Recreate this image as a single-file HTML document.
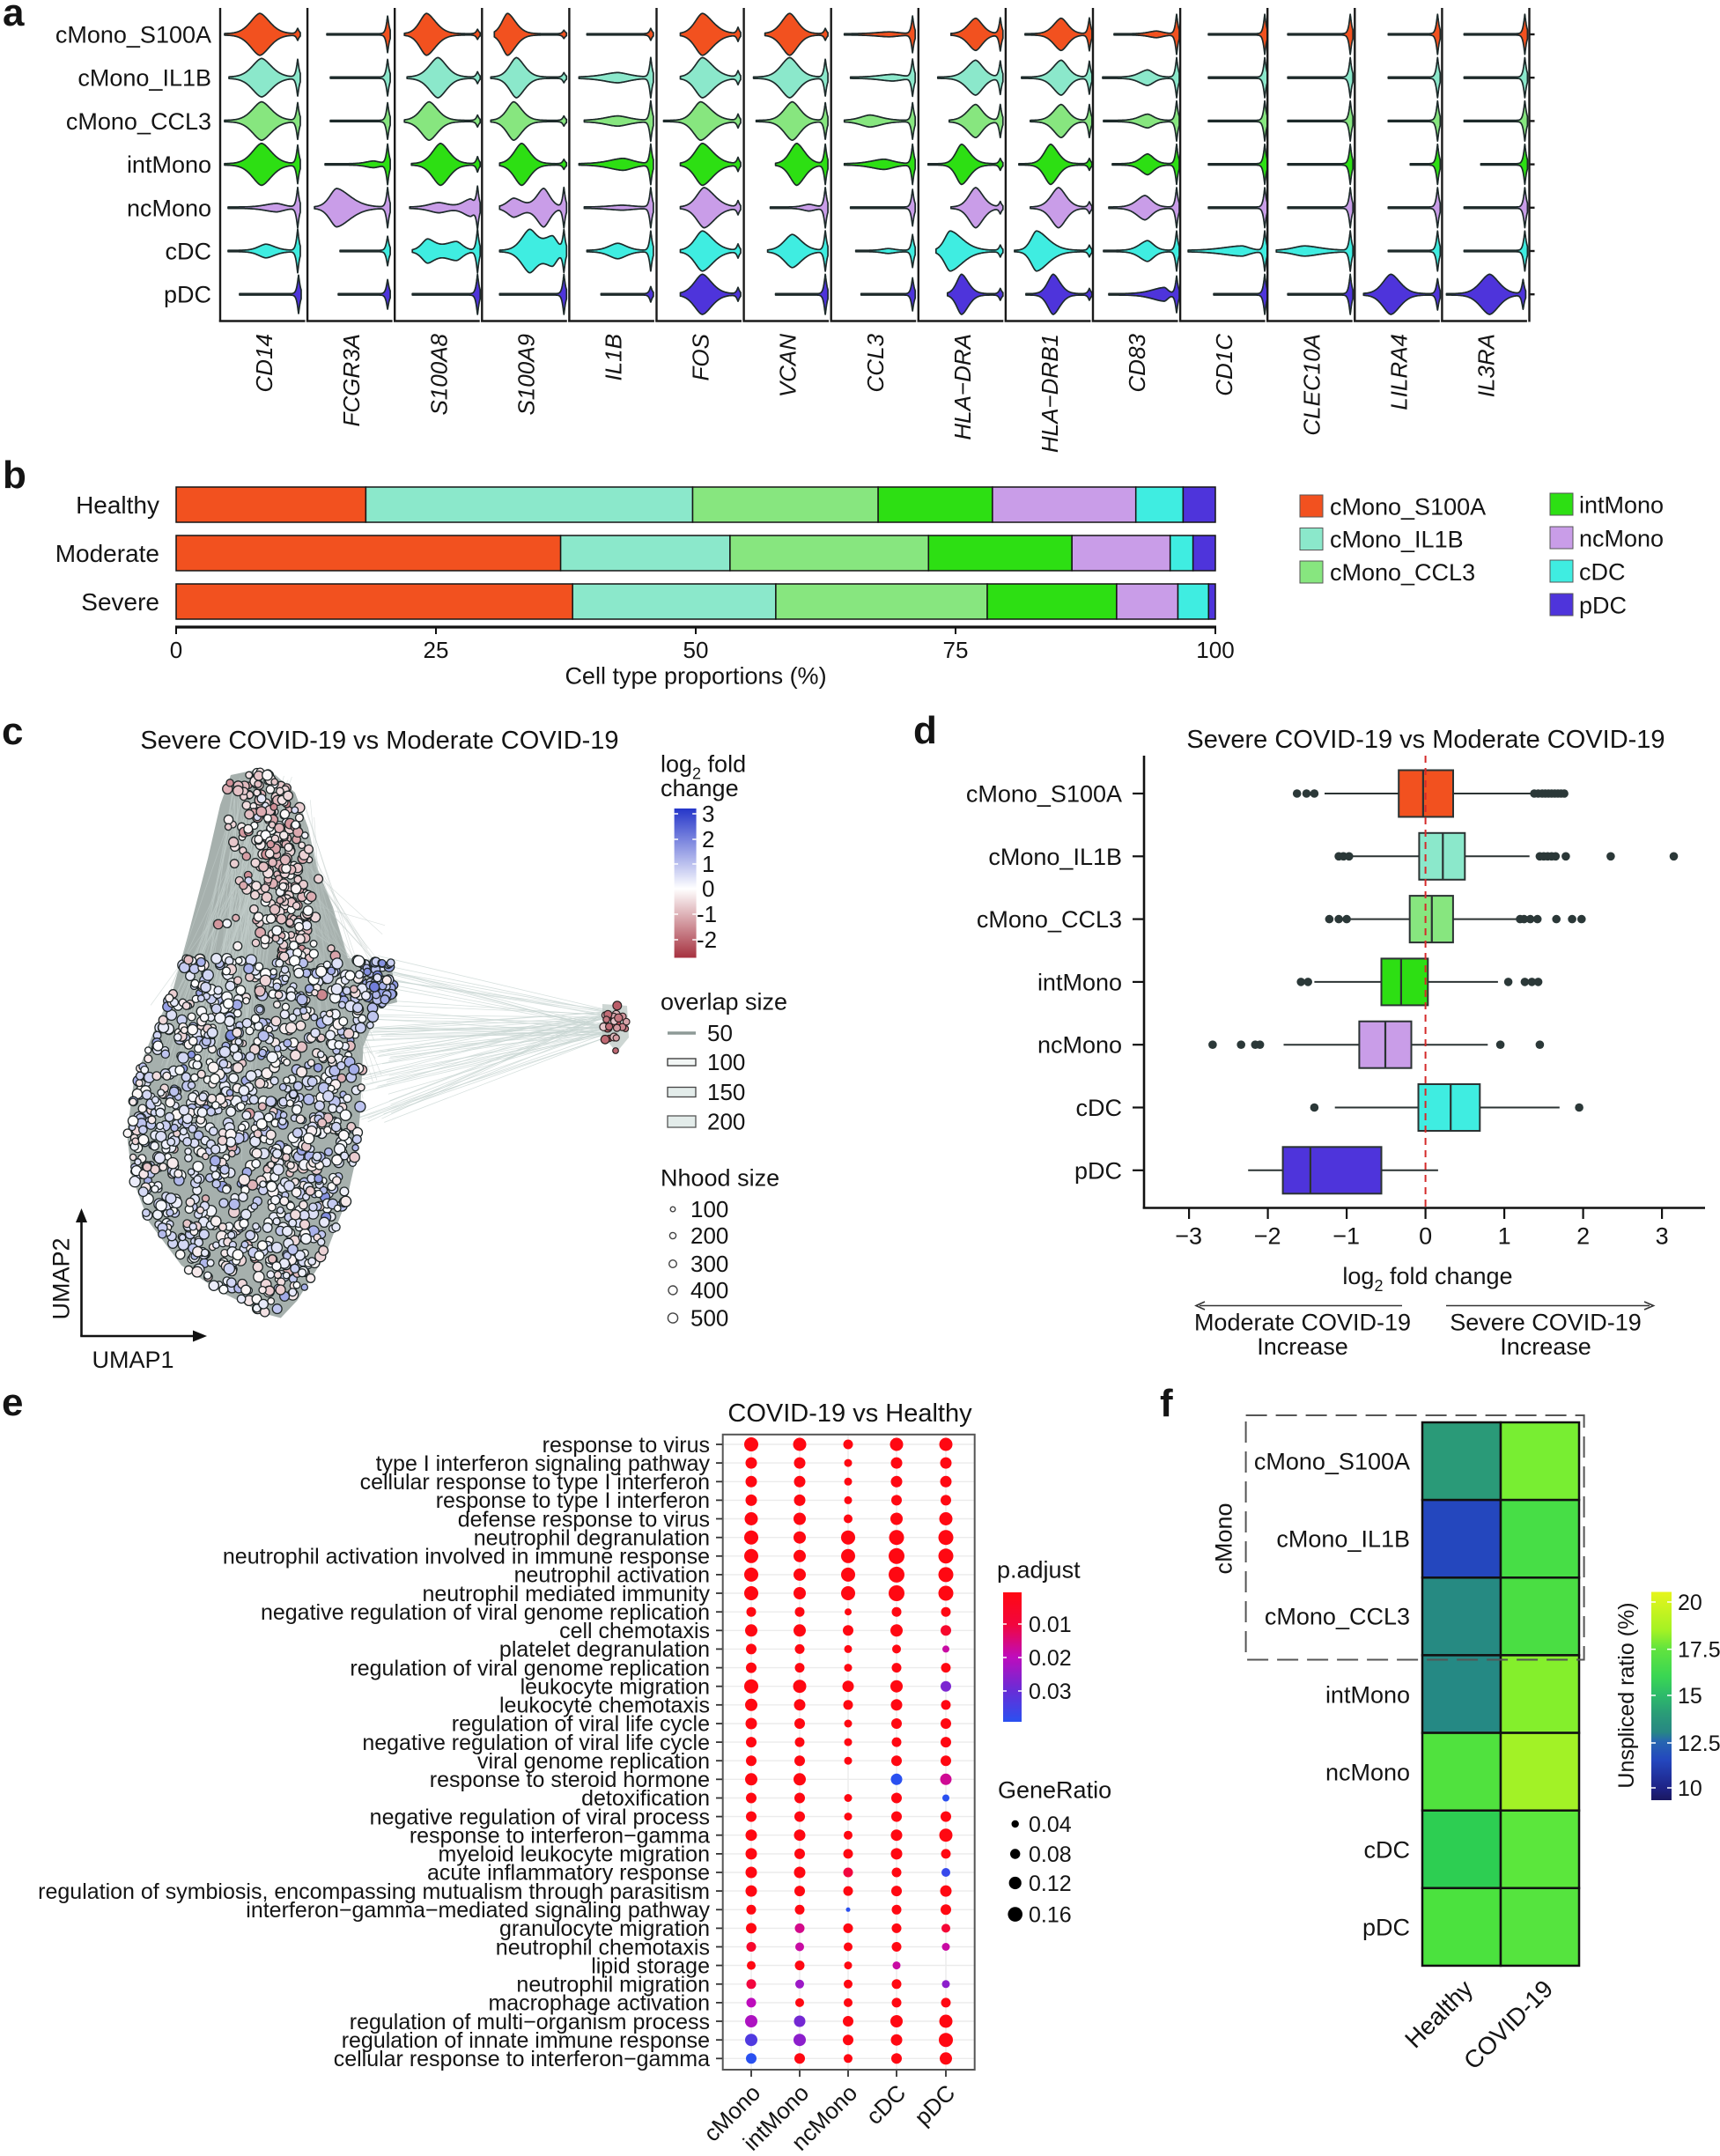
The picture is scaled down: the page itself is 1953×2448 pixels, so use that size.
<!DOCTYPE html>
<html><head><meta charset="utf-8"><title>Figure</title>
<style>
html,body{margin:0;padding:0;background:#fff;width:1953px;height:2448px;overflow:hidden}
svg{display:block}
text{font-family:"Liberation Sans",Arial,Helvetica,sans-serif;fill:#141414}
.pl{font-weight:bold;font-size:44px}
</style></head><body>
<svg id="fig" xmlns="http://www.w3.org/2000/svg" width="1953" height="2448" viewBox="0 0 1953 2448">
<defs>
<linearGradient id="gc" x1="0" y1="0" x2="0" y2="1">
<stop offset="0" stop-color="#2536C9"/><stop offset="0.537" stop-color="#FFFFFF"/><stop offset="1" stop-color="#A6313F"/>
</linearGradient>
<linearGradient id="ge" x1="0" y1="0" x2="0" y2="1">
<stop offset="0" stop-color="#FF0812"/><stop offset="0.25" stop-color="#F2063E"/><stop offset="0.5" stop-color="#BE0CBC"/><stop offset="0.75" stop-color="#6A2CD6"/><stop offset="1" stop-color="#2A50F0"/>
</linearGradient>
<linearGradient id="gf" x1="0" y1="0" x2="0" y2="1">
<stop offset="0" stop-color="#E6F51C"/><stop offset="0.185" stop-color="#A4F224"/><stop offset="0.272" stop-color="#62E43E"/><stop offset="0.406" stop-color="#3AD653"/><stop offset="0.495" stop-color="#2DBB6A"/><stop offset="0.584" stop-color="#2A9C77"/><stop offset="0.673" stop-color="#278784"/><stop offset="0.717" stop-color="#2766B0"/><stop offset="0.807" stop-color="#2447BE"/><stop offset="0.941" stop-color="#1E2386"/><stop offset="1" stop-color="#1A1860"/>
</linearGradient>
</defs>
<rect width="1953" height="2448" fill="#fff"/>

<!-- ================= PANEL A ================= -->
<text class="pl" x="3" y="29">a</text>
<g id="gA"></g>
<g font-size="27" text-anchor="end">
<text x="240" y="39" dy="0.35em">cMono_S100A</text>
<text x="240" y="88.2" dy="0.35em">cMono_IL1B</text>
<text x="240" y="137.4" dy="0.35em">cMono_CCL3</text>
<text x="240" y="186.6" dy="0.35em">intMono</text>
<text x="240" y="235.8" dy="0.35em">ncMono</text>
<text x="240" y="285" dy="0.35em">cDC</text>
<text x="240" y="334.2" dy="0.35em">pDC</text>
</g>
<g font-size="26" font-style="italic" text-anchor="end">
<text transform="translate(300,379) rotate(-90)" dy="0.35em">CD14</text>
<text transform="translate(399.1,379) rotate(-90)" dy="0.35em">FCGR3A</text>
<text transform="translate(498.2,379) rotate(-90)" dy="0.35em">S100A8</text>
<text transform="translate(597.3,379) rotate(-90)" dy="0.35em">S100A9</text>
<text transform="translate(696.4,379) rotate(-90)" dy="0.35em">IL1B</text>
<text transform="translate(795.5,379) rotate(-90)" dy="0.35em">FOS</text>
<text transform="translate(894.6,379) rotate(-90)" dy="0.35em">VCAN</text>
<text transform="translate(993.7,379) rotate(-90)" dy="0.35em">CCL3</text>
<text transform="translate(1092.8,379) rotate(-90)" dy="0.35em">HLA−DRA</text>
<text transform="translate(1191.9,379) rotate(-90)" dy="0.35em">HLA−DRB1</text>
<text transform="translate(1291,379) rotate(-90)" dy="0.35em">CD83</text>
<text transform="translate(1390.1,379) rotate(-90)" dy="0.35em">CD1C</text>
<text transform="translate(1489.2,379) rotate(-90)" dy="0.35em">CLEC10A</text>
<text transform="translate(1588.3,379) rotate(-90)" dy="0.35em">LILRA4</text>
<text transform="translate(1687.4,379) rotate(-90)" dy="0.35em">IL3RA</text>
</g>

<!-- ================= PANEL B ================= -->
<text class="pl" x="3" y="554">b</text>
<g id="gB"></g>
<g font-size="28" text-anchor="end">
<text x="181" y="573" dy="0.35em">Healthy</text>
<text x="181" y="628" dy="0.35em">Moderate</text>
<text x="181" y="683" dy="0.35em">Severe</text>
</g>
<g font-size="26" text-anchor="middle">
<text x="200" y="738" dy="0.35em">0</text>
<text x="495" y="738" dy="0.35em">25</text>
<text x="790" y="738" dy="0.35em">50</text>
<text x="1085" y="738" dy="0.35em">75</text>
<text x="1380" y="738" dy="0.35em">100</text>
<text x="790" y="767" dy="0.35em" font-size="27">Cell type proportions (%)</text>
</g>
<g font-size="27">
<rect x="1476" y="562" width="26" height="25" fill="#F2511F" stroke="#555" stroke-width="1"/>
<rect x="1476" y="599.5" width="26" height="25" fill="#8BE8CB" stroke="#555" stroke-width="1"/>
<rect x="1476" y="637" width="26" height="25" fill="#87E67F" stroke="#555" stroke-width="1"/>
<text x="1510" y="575" dy="0.35em">cMono_S100A</text>
<text x="1510" y="612" dy="0.35em">cMono_IL1B</text>
<text x="1510" y="649.5" dy="0.35em">cMono_CCL3</text>
<rect x="1760" y="560" width="26" height="25" fill="#2DDF13" stroke="#555" stroke-width="1"/>
<rect x="1760" y="598" width="26" height="25" fill="#C99DE8" stroke="#555" stroke-width="1"/>
<rect x="1760" y="636" width="26" height="25" fill="#3FEDE1" stroke="#555" stroke-width="1"/>
<rect x="1760" y="674" width="26" height="25" fill="#4E34DB" stroke="#555" stroke-width="1"/>
<text x="1793" y="573" dy="0.35em">intMono</text>
<text x="1793" y="611" dy="0.35em">ncMono</text>
<text x="1793" y="649" dy="0.35em">cDC</text>
<text x="1793" y="687" dy="0.35em">pDC</text>
</g>

<!-- ================= PANEL C ================= -->
<text class="pl" x="2" y="845">c</text>
<text x="431" y="840" dy="0.35em" font-size="29" text-anchor="middle">Severe COVID-19 vs Moderate COVID-19</text>
<g id="gC"></g>
<g font-size="27">
<text x="750" y="867" dy="0.35em">log<tspan font-size="18" dy="8">2</tspan><tspan dy="-8"> fold</tspan></text>
<text x="750" y="894.5" dy="0.35em">change</text>
</g>
<rect x="765.6" y="918" width="25" height="169.5" fill="url(#gc)"/>
<g stroke="#fff" stroke-width="1.5">
<line x1="765.6" y1="924" x2="770" y2="924"/><line x1="786.2" y1="924" x2="790.6" y2="924"/>
<line x1="765.6" y1="953" x2="770" y2="953"/><line x1="786.2" y1="953" x2="790.6" y2="953"/>
<line x1="765.6" y1="981" x2="770" y2="981"/><line x1="786.2" y1="981" x2="790.6" y2="981"/>
<line x1="765.6" y1="1009" x2="770" y2="1009"/><line x1="786.2" y1="1009" x2="790.6" y2="1009"/>
<line x1="765.6" y1="1038" x2="770" y2="1038"/><line x1="786.2" y1="1038" x2="790.6" y2="1038"/>
<line x1="765.6" y1="1067" x2="770" y2="1067"/><line x1="786.2" y1="1067" x2="790.6" y2="1067"/>
</g>
<g font-size="26">
<text x="797" y="924" dy="0.35em">3</text>
<text x="797" y="953" dy="0.35em">2</text>
<text x="797" y="981" dy="0.35em">1</text>
<text x="797" y="1009" dy="0.35em">0</text>
<text x="791" y="1038" dy="0.35em">-1</text>
<text x="791" y="1067" dy="0.35em">-2</text>
</g>
<text x="750" y="1137" dy="0.35em" font-size="27">overlap size</text>
<line x1="758" y1="1173" x2="790" y2="1173" stroke="#8E9A97" stroke-width="3.5"/>
<rect x="758" y="1202" width="32" height="8" fill="#F2F6F5" stroke="#333" stroke-width="1.3"/>
<rect x="758" y="1234.5" width="32" height="11" fill="#E3ECEA" stroke="#444" stroke-width="1.3"/>
<rect x="758" y="1267" width="32" height="13" fill="#E3ECEA" stroke="#555" stroke-width="1.3"/>
<g font-size="26">
<text x="803" y="1173" dy="0.35em">50</text>
<text x="803" y="1206" dy="0.35em">100</text>
<text x="803" y="1240" dy="0.35em">150</text>
<text x="803" y="1273.6" dy="0.35em">200</text>
</g>
<text x="750" y="1337" dy="0.35em" font-size="27">Nhood size</text>
<g fill="#fff" stroke="#444" stroke-width="1.4">
<circle cx="764" cy="1373" r="2.8"/><circle cx="764" cy="1403" r="3.6"/><circle cx="764" cy="1435" r="4.3"/><circle cx="764" cy="1465" r="5"/><circle cx="764" cy="1496.5" r="5.6"/>
</g>
<g font-size="26">
<text x="784" y="1373" dy="0.35em">100</text>
<text x="784" y="1403" dy="0.35em">200</text>
<text x="784" y="1435" dy="0.35em">300</text>
<text x="784" y="1465" dy="0.35em">400</text>
<text x="784" y="1496.5" dy="0.35em">500</text>
</g>
<g stroke="#111" stroke-width="2.6" fill="none">
<line x1="92.5" y1="1517" x2="92.5" y2="1386"/>
<line x1="91.2" y1="1517" x2="222" y2="1517"/>
</g>
<path d="M92.5 1372 L86 1388 L99 1388 Z" fill="#111"/>
<path d="M235 1517 L219 1510.5 L219 1523.5 Z" fill="#111"/>
<text transform="translate(69,1452) rotate(-90)" font-size="27" text-anchor="middle" dy="0.35em">UMAP2</text>
<text x="151" y="1543.7" font-size="27" text-anchor="middle" dy="0.35em">UMAP1</text>

<!-- ================= PANEL D ================= -->
<text class="pl" x="1037" y="844">d</text>
<text x="1619" y="839" dy="0.35em" font-size="29" text-anchor="middle">Severe COVID-19 vs Moderate COVID-19</text>
<g id="gD"></g>
<g font-size="27" text-anchor="end">
<text x="1274" y="901" dy="0.35em">cMono_S100A</text>
<text x="1274" y="972.3" dy="0.35em">cMono_IL1B</text>
<text x="1274" y="1043.6" dy="0.35em">cMono_CCL3</text>
<text x="1274" y="1114.9" dy="0.35em">intMono</text>
<text x="1274" y="1186.2" dy="0.35em">ncMono</text>
<text x="1274" y="1257.5" dy="0.35em">cDC</text>
<text x="1274" y="1328.8" dy="0.35em">pDC</text>
</g>
<g font-size="27" text-anchor="middle">
<text x="1349.6" y="1403" dy="0.35em">−3</text>
<text x="1439.1" y="1403" dy="0.35em">−2</text>
<text x="1528.6" y="1403" dy="0.35em">−1</text>
<text x="1618.6" y="1403" dy="0.35em">0</text>
<text x="1708.1" y="1403" dy="0.35em">1</text>
<text x="1797.6" y="1403" dy="0.35em">2</text>
<text x="1887.1" y="1403" dy="0.35em">3</text>
<text x="1621" y="1448.6" dy="0.35em">log<tspan font-size="18" dy="8">2</tspan><tspan dy="-8"> fold change</tspan></text>
<text x="1479" y="1501" dy="0.35em">Moderate COVID-19</text>
<text x="1479" y="1528.6" dy="0.35em">Increase</text>
<text x="1755" y="1501" dy="0.35em">Severe COVID-19</text>
<text x="1755" y="1528.6" dy="0.35em">Increase</text>
</g>
<g stroke="#333" stroke-width="1.6" fill="none">
<line x1="1592" y1="1482.5" x2="1362" y2="1482.5"/>
<line x1="1642" y1="1482.5" x2="1873" y2="1482.5"/>
<path d="M1368 1478 L1358 1482.5 L1368 1487"/>
<path d="M1867 1478 L1877.5 1482.5 L1867 1487"/>
</g>

<!-- ================= PANEL E ================= -->
<text class="pl" x="2" y="1607">e</text>
<text x="965" y="1604" dy="0.35em" font-size="29" text-anchor="middle">COVID-19 vs Healthy</text>
<g id="gE"></g>
<g font-size="25" text-anchor="end">
<text x="806" y="1640" dy="0.35em">response to virus</text>
<text x="806" y="1661.13" dy="0.35em">type I interferon signaling pathway</text>
<text x="806" y="1682.26" dy="0.35em">cellular response to type I interferon</text>
<text x="806" y="1703.39" dy="0.35em">response to type I interferon</text>
<text x="806" y="1724.52" dy="0.35em">defense response to virus</text>
<text x="806" y="1745.65" dy="0.35em">neutrophil degranulation</text>
<text x="806" y="1766.78" dy="0.35em">neutrophil activation involved in immune response</text>
<text x="806" y="1787.91" dy="0.35em">neutrophil activation</text>
<text x="806" y="1809.04" dy="0.35em">neutrophil mediated immunity</text>
<text x="806" y="1830.17" dy="0.35em">negative regulation of viral genome replication</text>
<text x="806" y="1851.3" dy="0.35em">cell chemotaxis</text>
<text x="806" y="1872.43" dy="0.35em">platelet degranulation</text>
<text x="806" y="1893.56" dy="0.35em">regulation of viral genome replication</text>
<text x="806" y="1914.69" dy="0.35em">leukocyte migration</text>
<text x="806" y="1935.82" dy="0.35em">leukocyte chemotaxis</text>
<text x="806" y="1956.95" dy="0.35em">regulation of viral life cycle</text>
<text x="806" y="1978.08" dy="0.35em">negative regulation of viral life cycle</text>
<text x="806" y="1999.21" dy="0.35em">viral genome replication</text>
<text x="806" y="2020.34" dy="0.35em">response to steroid hormone</text>
<text x="806" y="2041.47" dy="0.35em">detoxification</text>
<text x="806" y="2062.6" dy="0.35em">negative regulation of viral process</text>
<text x="806" y="2083.73" dy="0.35em">response to interferon−gamma</text>
<text x="806" y="2104.86" dy="0.35em">myeloid leukocyte migration</text>
<text x="806" y="2125.99" dy="0.35em">acute inflammatory response</text>
<text x="806" y="2147.12" dy="0.35em">regulation of symbiosis, encompassing mutualism through parasitism</text>
<text x="806" y="2168.25" dy="0.35em">interferon−gamma−mediated signaling pathway</text>
<text x="806" y="2189.38" dy="0.35em">granulocyte migration</text>
<text x="806" y="2210.51" dy="0.35em">neutrophil chemotaxis</text>
<text x="806" y="2231.64" dy="0.35em">lipid storage</text>
<text x="806" y="2252.77" dy="0.35em">neutrophil migration</text>
<text x="806" y="2273.9" dy="0.35em">macrophage activation</text>
<text x="806" y="2295.03" dy="0.35em">regulation of multi−organism process</text>
<text x="806" y="2316.16" dy="0.35em">regulation of innate immune response</text>
<text x="806" y="2337.29" dy="0.35em">cellular response to interferon−gamma</text>
</g>
<g font-size="26" text-anchor="end">
<text transform="translate(865,2378) rotate(-45)">cMono</text>
<text transform="translate(920,2378) rotate(-45)">intMono</text>
<text transform="translate(975,2378) rotate(-45)">ncMono</text>
<text transform="translate(1030,2378) rotate(-45)">cDC</text>
<text transform="translate(1086,2378) rotate(-45)">pDC</text>
</g>
<text x="1132" y="1782" dy="0.35em" font-size="27">p.adjust</text>
<rect x="1139" y="1808" width="21" height="147" fill="url(#ge)"/>
<g stroke="#fff" stroke-width="1.5">
<line x1="1139" y1="1844" x2="1143" y2="1844"/><line x1="1156" y1="1844" x2="1160" y2="1844"/>
<line x1="1139" y1="1882" x2="1143" y2="1882"/><line x1="1156" y1="1882" x2="1160" y2="1882"/>
<line x1="1139" y1="1920" x2="1143" y2="1920"/><line x1="1156" y1="1920" x2="1160" y2="1920"/>
</g>
<g font-size="25">
<text x="1168" y="1844" dy="0.35em">0.01</text>
<text x="1168" y="1882" dy="0.35em">0.02</text>
<text x="1168" y="1920" dy="0.35em">0.03</text>
</g>
<text x="1133" y="2032" dy="0.35em" font-size="27">GeneRatio</text>
<g fill="#000">
<circle cx="1152.7" cy="2071" r="4.2"/><circle cx="1152.7" cy="2105" r="5.7"/><circle cx="1152.7" cy="2138" r="7.1"/><circle cx="1152.7" cy="2173.6" r="8.3"/>
</g>
<g font-size="25">
<text x="1168" y="2071" dy="0.35em">0.04</text>
<text x="1168" y="2105" dy="0.35em">0.08</text>
<text x="1168" y="2138" dy="0.35em">0.12</text>
<text x="1168" y="2173.6" dy="0.35em">0.16</text>
</g>

<!-- ================= PANEL F ================= -->
<text class="pl" x="1317" y="1608">f</text>
<g id="gF"></g>
<rect x="1414.6" y="1607" width="384" height="277.5" fill="none" stroke="#555" stroke-width="2" stroke-dasharray="24 10"/>
<g font-size="27" text-anchor="end">
<text x="1601" y="1659" dy="0.35em">cMono_S100A</text>
<text x="1601" y="1747" dy="0.35em">cMono_IL1B</text>
<text x="1601" y="1835" dy="0.35em">cMono_CCL3</text>
<text x="1601" y="1924" dy="0.35em">intMono</text>
<text x="1601" y="2012" dy="0.35em">ncMono</text>
<text x="1601" y="2100" dy="0.35em">cDC</text>
<text x="1601" y="2188" dy="0.35em">pDC</text>
</g>
<text transform="translate(1389,1747) rotate(-90)" font-size="27" text-anchor="middle" dy="0.35em">cMono</text>
<g font-size="28" text-anchor="end">
<text transform="translate(1674,2260) rotate(-45)">Healthy</text>
<text transform="translate(1765,2260) rotate(-45)">COVID-19</text>
</g>
<rect x="1875" y="1807.5" width="23" height="236.5" fill="url(#gf)"/>
<g stroke="#fff" stroke-width="1.5">
<line x1="1875" y1="1819" x2="1880" y2="1819"/><line x1="1893" y1="1819" x2="1898" y2="1819"/>
<line x1="1875" y1="1872.6" x2="1880" y2="1872.6"/><line x1="1893" y1="1872.6" x2="1898" y2="1872.6"/>
<line x1="1875" y1="1925" x2="1880" y2="1925"/><line x1="1893" y1="1925" x2="1898" y2="1925"/>
<line x1="1875" y1="1979" x2="1880" y2="1979"/><line x1="1893" y1="1979" x2="1898" y2="1979"/>
<line x1="1875" y1="2030" x2="1880" y2="2030"/><line x1="1893" y1="2030" x2="1898" y2="2030"/>
</g>
<g font-size="25">
<text x="1905" y="1819" dy="0.35em">20</text>
<text x="1905" y="1872.6" dy="0.35em">17.5</text>
<text x="1905" y="1925" dy="0.35em">15</text>
<text x="1905" y="1979" dy="0.35em">12.5</text>
<text x="1905" y="2030" dy="0.35em">10</text>
</g>
<text transform="translate(1846,1925) rotate(-90)" font-size="25" text-anchor="middle" dy="0.35em">Unspliced ratio (%)</text>
</svg>

<script>
(function(){
function mb(a){return function(){a|=0;a=a+0x6D2B79F5|0;var t=Math.imul(a^a>>>15,1|a);t=t+Math.imul(t^t>>>7,61|t)^t;return((t^t>>>14)>>>0)/4294967296;};}
var R=mb(12345);
function gauss(){var u=R()||1e-9,v=R();return Math.sqrt(-2*Math.log(u))*Math.cos(2*Math.PI*v);}
function f1(v){return Math.round(v*10)/10;}
var RC=['#F2511F','#8BE8CB','#87E67F','#2DDF13','#C99DE8','#3FEDE1','#4E34DB'];

/* ---------- PANEL A: violins ---------- */
var V=[
[[5,88,6,[45,23,15,16]],[10,88,20,[47,21,15,16]],[5,88,20,[47,21,15,16]],[5,88,21,[47,23,15,16]],[9,88,22,[64,4,18,12]],[9,88,24,[52,7,12,14]],[22,89,21]],
[[22,91,20],[26,91,20],[26,91,20],[20,91,22,[75,3,12,10]],[8,91,22,[33,21,11,22]],[37,91,16],[35,91,16]],
[[11,94,5,[36,23,11,15]],[14,94,6,[49,22,14,14]],[11,94,6,[39,21,13,14]],[19,94,8,[52,23,13,14]],[17,94,22,[50,5,15,15],[86,9,12,6]],[20,94,24,[37,12,9,12],[70,10,20,10]],[20,94,22]],
[[14,93,4,[29,23,9,13]],[10,93,5,[39,22,11,13]],[10,93,5,[36,21,11,13]],[20,93,5,[45,23,12,13]],[20,93,22,[36,10,10,14],[70,21,11,10]],[20,93,22,[54,23,13,12],[80,16,14,8]],[20,93,22]],
[[20,92.5,6],[11,92.5,22,[55,5,22,18]],[17,92.5,22,[55,5,20,18]],[11,92.5,22,[61,6,22,16]],[17,92.5,22,[60,2,20,18]],[20,92.5,22,[55,8,14,14]],[36,92.5,8]],
[[27,92.5,7,[52,23,12,17]],[27,92.5,7,[52,22,12,17]],[8,92.5,7,[50,21,12,17]],[27,92.5,7,[52,23,12,17]],[27,92.5,7,[54,22,12,17]],[27,92.5,7,[52,22,12,17]],[27,92.5,7,[52,22,13,15]]],
[[24,92.5,6,[52,23,13,13]],[11,92.5,20,[52,22,14,14]],[14,92.5,20,[55,21,13,13]],[36,92.5,22,[60,23,11,13]],[30,92.5,22,[74,3,10,10]],[27,92.5,22,[55,18,13,15]],[36,92.5,22]],
[[15,92.5,20,[66,2,20,15]],[22,92.5,20,[70,3,20,15]],[15,92.5,20,[44,6,15,18]],[15,92.5,22,[60,5,20,15]],[22,92.5,20],[28,92.5,18,[65,2,10,10]],[34,92.5,18]],
[[37,93,18,[65,17.5,12,11]],[22,93,18,[65,19,14,12]],[35,93,18,[65,18,13,11]],[11,93,6,[49,22,9,13]],[37,93,6,[65,22,11,12]],[20,93,6,[36,22,9,20]],[33,93,6,[49,22,8,11]]],
[[22,95,18,[63,17.5,12,11]],[18,95,18,[63,19,13,11]],[28,95,18,[63,18,12,11]],[15,95,6,[51,22,10,12]],[28,95,6,[60,22,12,12]],[10,95,6,[35,22,9,19]],[23,95,6,[54,22,9,11]]],
[[24,95,22,[72,3,12,10]],[11,95,22,[62,8,13,10]],[12,95,22,[62,7,13,10]],[22,95,22,[62,11,11,10]],[18,95,22,[59,13,13,11]],[12,95,22,[62,11,13,10]],[18,95,20,[81,7,20,6]]],
[[32,96,22],[32,96,22],[32,96,22],[32,96,22],[32,96,22],[9,96,22,[70,5,30,12]],[38,96,22]],
[[23,94,22],[23,94,22],[23,94,22],[23,94,22],[23,94,22],[10,94,22,[42,5,18,25]],[23,94,22]],
[[38,94,22],[38,94,22],[38,94,22],[63,94,22],[38,94,22],[38,94,22],[10,94,17,[41,22,13,15]]],
[[25,94,22],[25,94,22],[25,94,22],[44,94,22],[25,94,22],[25,94,22],[5,92,16,[54,22,15,15]]]
];
var s='';
for(var c=0;c<15;c++){
  var X=250+99.1*c;
  s+='<line x1="'+f1(X)+'" y1="9" x2="'+f1(X)+'" y2="365.5" stroke="#1a1a1a" stroke-width="2.4"/>';
  s+='<line x1="'+f1(X-1.2)+'" y1="364.5" x2="'+f1(X+96.5)+'" y2="364.5" stroke="#1a1a1a" stroke-width="2.4"/>';
  for(var r=0;r<7;r++){
    var Y=39+49.2*r, d=V[c][r], x0=d[0], sx=d[1], sh=d[2], bodies=d.slice(3);
    var x1=sx+3.2, top=[], bot=[];
    var x=x0;
    while(x<=x1+0.0001){
      var h=0.8;
      for(var k=0;k<bodies.length;k++){var b=bodies[k],dd=x-b[0],w=dd<0?b[2]:b[3];h+=b[1]*Math.exp(-Math.pow(Math.abs(dd)/w,1.7));}
      h+=sh*Math.exp(-Math.pow(Math.abs(x-sx)/2.0,1.2));
      top.push(f1(X+x)+','+f1(Y-h)); bot.push(f1(X+x)+','+f1(Y+h));
      var nx=x+((Math.abs(x-sx)<6)?0.25:0.6);
      if(x<sx&&nx>sx){nx=sx;}
      x=nx;
    }
    bot.reverse();
    s+='<path d="M'+top.join(' L')+' L'+bot.join(' L')+' Z" fill="'+RC[r]+'" stroke="#1D2A2A" stroke-width="1.7" stroke-linejoin="round"/>';
  }
}
var XR=250+99.1*15;
s+='<line x1="'+f1(XR)+'" y1="9" x2="'+f1(XR)+'" y2="365.5" stroke="#1a1a1a" stroke-width="2.4"/>';
for(var r=0;r<7;r++){var Y=39+49.2*r;s+='<line x1="'+f1(XR)+'" y1="'+f1(Y)+'" x2="'+f1(XR+6)+'" y2="'+f1(Y)+'" stroke="#1a1a1a" stroke-width="2.4"/>';}
document.getElementById('gA').innerHTML=s;

/* ---------- PANEL B: bars ---------- */
var BP=[[18.25,31.45,17.85,11.0,13.8,4.55,3.1],[37.0,16.3,19.1,13.8,9.45,2.2,2.15],[38.15,19.55,20.35,12.45,5.9,2.95,0.65]];
var BY=[553,608,663];
s='';
for(var i=0;i<3;i++){var acc=0;for(var j=0;j<7;j++){var x0=200+11.8*acc,w=11.8*BP[i][j];acc+=BP[i][j];
 s+='<rect x="'+f1(x0)+'" y="'+BY[i]+'" width="'+f1(w)+'" height="40" fill="'+RC[j]+'" stroke="#151515" stroke-width="1.5"/>';}}
s+='<line x1="199" y1="712" x2="1381" y2="712" stroke="#111" stroke-width="3.2"/>';
for(var t=0;t<5;t++){var xx=200+295*t;s+='<line x1="'+xx+'" y1="712" x2="'+xx+'" y2="720" stroke="#111" stroke-width="2"/>';}
document.getElementById('gB').innerHTML=s;

/* ---------- PANEL C: network ---------- */
var P=[[290.6,874],[312.5,879.6],[335,900],[350,940],[360,985],[378,1030],[395,1088],[425,1090],[443.8,1093],[451,1138],[431,1143],[412.5,1188],[409,1262.6],[405,1312],[393.8,1362],[368.8,1426.8],[337.5,1476.6],[318.8,1496.5],[300,1491.5],[250,1466.6],[206,1436.8],[168.8,1387],[150,1337],[144,1287.5],[152,1227.8],[176,1168],[196,1125],[214,1060],[236,975],[250,914],[262,880]];
function inPoly(x,y){var ins=false;for(var i=0,j=P.length-1;i<P.length;j=i++){var xi=P[i][0],yi=P[i][1],xj=P[j][0],yj=P[j][1];if(((yi>y)!=(yj>y))&&(x<(xj-xi)*(y-yi)/(yj-yi)+xi))ins=!ins;}return ins;}
function mix(a,b,t){return 'rgb('+Math.round(a[0]+(b[0]-a[0])*t)+','+Math.round(a[1]+(b[1]-a[1])*t)+','+Math.round(a[2]+(b[2]-a[2])*t)+')';}
function lfc(v){if(v>=0)return mix([255,255,255],[36,56,200],Math.min(v/3.2,1));return mix([255,255,255],[168,50,64],Math.min(-v/2.7,1));}
s='';
var CX=697,CY=1162;
for(var i=0;i<70;i++){var y=1085+R()*190,x=395+R()*50;s+='<line x1="'+f1(x)+'" y1="'+f1(y)+'" x2="'+f1(CX-6+R()*12)+'" y2="'+f1(CY-14+R()*28)+'" stroke="#C9D6D3" stroke-width="0.8" opacity="0.75"/>';}
s+='<path d="M'+P.map(function(p){return p[0]+','+p[1];}).join(' L')+' Z" fill="#A6B0AD"/>';
for(var i=0;i<110;i++){var ax=262+R()*70,ay=880+R()*60,bx=170+R()*120,by=1120+R()*200;
 s+='<line x1="'+f1(ax)+'" y1="'+f1(ay)+'" x2="'+f1(bx)+'" y2="'+f1(by)+'" stroke="#C3CECB" stroke-width="0.8" opacity="0.55"/>';}
for(var i=0;i<60;i++){var ax=300+R()*60,ay=900+R()*150,bx=360+R()*80,by=1050+R()*200;
 s+='<line x1="'+f1(ax)+'" y1="'+f1(ay)+'" x2="'+f1(bx)+'" y2="'+f1(by)+'" stroke="#BAC5C2" stroke-width="0.7" opacity="0.5"/>';}
var nodes=[];
var cnt=0,guard=0;
while(cnt<300&&guard<100000){guard++;var y=874+R()*216,spine=298+(y-874)*0.17,x=spine+gauss()*(y<945?22:20);
 if(R()<0.12)x=245+R()*110;
 if(!inPoly(x,y))continue;nodes.push([x,y,3.6+R()*2.2,gauss()*0.5-0.55]);cnt++;}
cnt=0;guard=0;
while(cnt<1150&&guard<200000){guard++;var x=140+R()*315,y=1088+R()*412;if(!inPoly(x,y))continue;
 var v=gauss()*0.55+0.25;if(x>412&&y<1148)v=0.9+gauss()*0.5;
 nodes.push([x,y,3.6+R()*2.6,v]);cnt++;}
for(var i=0;i<28;i++){var x=415+R()*34,y=1090+R()*50;if(!inPoly(x,y))continue;nodes.push([x,y,3.6+R()*2,1.0+gauss()*0.5]);}
for(var i=0;i<nodes.length;i++){var n=nodes[i];s+='<circle cx="'+f1(n[0])+'" cy="'+f1(n[1])+'" r="'+f1(n[2])+'" fill="'+lfc(n[3])+'" stroke="#1E2626" stroke-width="1.3"/>';}
s+='<path d="M684 1140 L712 1142 L714 1178 L700 1195 L684 1175 Z" fill="#B8C4C1" opacity="0.7"/>';
for(var i=0;i<24;i++){var x=CX+gauss()*7,y=CY+gauss()*11;s+='<circle cx="'+f1(x)+'" cy="'+f1(y)+'" r="'+f1(3.4+R()*1.6)+'" fill="'+lfc(-1.6+gauss()*0.5)+'" stroke="#2a2222" stroke-width="1.2"/>';}
s+='<circle cx="699" cy="1193" r="3.3" fill="'+lfc(-2)+'" stroke="#2a2222" stroke-width="1.2"/>';
document.getElementById('gC').innerHTML=s;

/* ---------- PANEL D: boxplots ---------- */
function vx(v){return 1618.6+89.5*v;}
var BX=[[-0.34,-0.03,0.35,-1.28,1.35],[-0.08,0.22,0.5,-0.95,1.32],[-0.2,0.08,0.35,-0.95,1.15],[-0.56,-0.31,0.03,-1.41,0.92],[-0.84,-0.51,-0.18,-1.8,0.79],[-0.09,0.32,0.69,-1.15,1.7],[-1.81,-1.46,-0.56,-2.25,0.16]];
var OUT=[[-1.63,-1.51,-1.41,1.38,1.43,1.48,1.52,1.56,1.6,1.64,1.68,1.72,1.76],[-1.1,-1.04,-0.97,1.45,1.5,1.55,1.6,1.65,1.78,2.35,3.15],[-1.22,-1.1,-1.0,1.2,1.25,1.33,1.42,1.66,1.86,1.98],[-1.58,-1.49,1.05,1.26,1.35,1.43],[-2.7,-2.34,-2.16,-2.1,0.95,1.45],[-1.41,1.95],[]];
s='';
for(var i=0;i<7;i++){var Y=901+71.3*i,b=BX[i];
 s+='<line x1="1286" y1="'+f1(Y)+'" x2="1299" y2="'+f1(Y)+'" stroke="#111" stroke-width="2.2"/>';
 s+='<line x1="'+f1(vx(b[3]))+'" y1="'+f1(Y)+'" x2="'+f1(vx(b[4]))+'" y2="'+f1(Y)+'" stroke="#2b3333" stroke-width="2"/>';
 s+='<rect x="'+f1(vx(b[0]))+'" y="'+f1(Y-26.5)+'" width="'+f1(vx(b[2])-vx(b[0]))+'" height="53" fill="'+RC[i]+'" stroke="#2b3333" stroke-width="2"/>';
 s+='<line x1="'+f1(vx(b[1]))+'" y1="'+f1(Y-26.5)+'" x2="'+f1(vx(b[1]))+'" y2="'+f1(Y+26.5)+'" stroke="#2b3333" stroke-width="2.2"/>';
 for(var k=0;k<OUT[i].length;k++){s+='<circle cx="'+f1(vx(OUT[i][k]))+'" cy="'+f1(Y)+'" r="4.8" fill="#2b3838"/>';}
}
s+='<line x1="1618.6" y1="858" x2="1618.6" y2="1371" stroke="#D42A2A" stroke-width="2" stroke-dasharray="8 6"/>';
s+='<line x1="1299" y1="858" x2="1299" y2="1372.5" stroke="#111" stroke-width="2.6"/>';
s+='<line x1="1297.7" y1="1371.5" x2="1936" y2="1371.5" stroke="#111" stroke-width="2.6"/>';
for(var t=-3;t<=3;t++){var xx=vx(t);s+='<line x1="'+f1(xx)+'" y1="1371" x2="'+f1(xx)+'" y2="1384" stroke="#111" stroke-width="2.2"/>';}
document.getElementById('gD').innerHTML=s;

/* ---------- PANEL E: dot plot ---------- */
var SZ=[[8,7.5,5.5,7.5,7.5],[6.5,6.5,4.5,6.5,6.5],[6.5,6.5,4.5,6.5,6.5],[6.5,6.5,4.5,6,6],[7.5,7,5,7,7.5],[8,7,8,8.5,8.5],[8,7,8,9,8.5],[8,7,8,9,8.5],[8,7,8,9,8.5],[5.5,5.5,4,5.5,5.5],
[7,7,6,7,6],[6,5.5,4.5,5,4],[6,5.5,4.5,5.5,5.5],[8,7.5,6.5,7,6],[7,6.5,5.5,6.5,5.5],[6.5,6,4.5,6,6],[6,5.5,4.5,5.5,6],[6,6,4.5,6,6],[7,7,0,6.5,6.5],[6,6,4.5,6,4],
[6,6,4.5,6,6],[6.5,6.5,5,6.5,7.5],[6.5,6,5.5,6.5,5.5],[6.5,6.5,5.5,5.5,5],[6.5,6,5.5,6,6.5],[5.5,5.5,2.5,5.5,6],[6,5.5,5.5,5.5,5],[5.5,5,5,5.5,4.5],[5,5.5,4.5,4.5,0],[5.5,5,5,5.5,4.5],
[5.5,5,5,5.5,5.5],[7,6.5,6,7,7.5],[7,7,6,6.5,8],[6,6,5,6,7]];
var TC={'10,4':0.15,'11,4':0.45,'13,4':0.7,'18,3':1.0,'18,4':0.42,'19,4':1.0,'23,2':0.25,'23,4':0.95,'25,2':1.0,'26,1':0.4,'26,4':0.2,'27,0':0.15,'27,1':0.45,'27,4':0.45,'28,3':0.45,'29,0':0.25,'29,1':0.6,'29,4':0.65,'30,0':0.5,'31,0':0.55,'31,1':0.72,'32,0':0.85,'32,1':0.65,'33,0':1.0};
var ST=[[0,[255,8,18]],[0.25,[242,6,62]],[0.5,[190,12,188]],[0.75,[106,44,214]],[1,[42,80,240]]];
function ecol(t){for(var i=1;i<ST.length;i++){if(t<=ST[i][0]){var a=ST[i-1],b=ST[i],u=(t-a[0])/(b[0]-a[0]);return mix(a[1],b[1],u);}}return mix(ST[4][1],ST[4][1],0);}
var COLS=[853,908,963,1018,1074];
s='<rect x="820.7" y="1628.8" width="286" height="721.2" fill="#fff"/>';
for(var i=0;i<34;i++){var y=1640+21.13*i;s+='<line x1="821" y1="'+f1(y)+'" x2="1106" y2="'+f1(y)+'" stroke="#EBEBEB" stroke-width="1.4"/>';}
for(var j=0;j<5;j++){s+='<line x1="'+COLS[j]+'" y1="1629" x2="'+COLS[j]+'" y2="2350" stroke="#EBEBEB" stroke-width="1.4"/>';}
for(var i=0;i<34;i++){var y=1640+21.13*i;for(var j=0;j<5;j++){var r=SZ[i][j];if(!r)continue;var t=TC[i+','+j]||0;
 s+='<circle cx="'+COLS[j]+'" cy="'+f1(y)+'" r="'+r+'" fill="'+ecol(t)+'"/>';}}
s+='<rect x="820.7" y="1628.8" width="286" height="721.2" fill="none" stroke="#555" stroke-width="2"/>';
for(var i=0;i<34;i++){var y=1640+21.13*i;s+='<line x1="813" y1="'+f1(y)+'" x2="820" y2="'+f1(y)+'" stroke="#333" stroke-width="1.8"/>';}
for(var j=0;j<5;j++){s+='<line x1="'+COLS[j]+'" y1="2351" x2="'+COLS[j]+'" y2="2358" stroke="#333" stroke-width="1.8"/>';}
document.getElementById('gE').innerHTML=s;

/* ---------- PANEL F: heatmap ---------- */
var HC=[['#2A9A78','#78EE32'],['#2447BE','#47DE46'],['#268A82','#4ADE43'],['#258984','#84EF2C'],['#50E23E','#A2F226'],['#2DCE52','#5BE73C'],['#4BE23E','#55E43E']];
s='';
for(var i=0;i<7;i++){var y=1615+88.14*i;for(var j=0;j<2;j++){var x=1615+89*j;
 s+='<rect x="'+x+'" y="'+f1(y)+'" width="89" height="88.14" fill="'+HC[i][j]+'" stroke="#111" stroke-width="2.5"/>';}}
document.getElementById('gF').innerHTML=s;
})();
</script>
</body></html>
